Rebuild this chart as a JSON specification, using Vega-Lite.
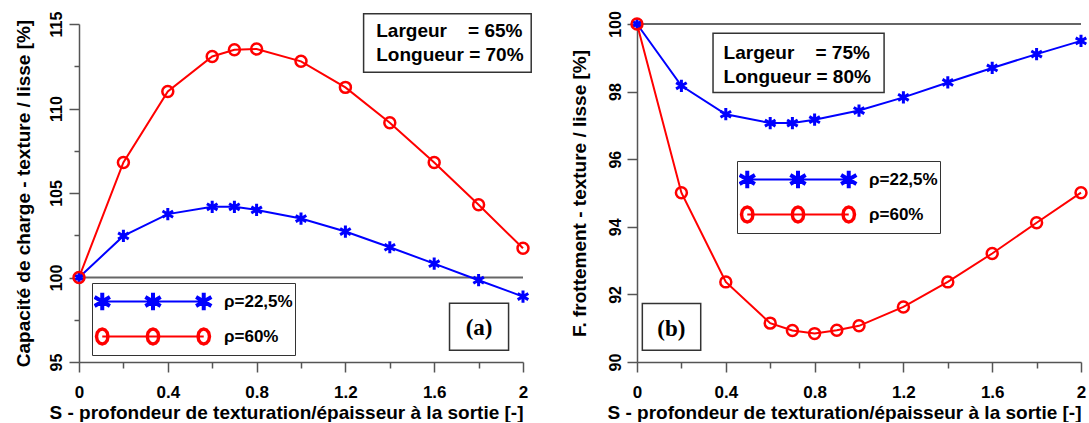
{
  "$schema": "https://vega.github.io/schema/vega-lite/v6.json",
  "padding": {"left": 14, "top": 10, "right": 0, "bottom": 0},
  "spacing": 35,
  "datasets": {
    "a": [
      {"serie": "ρ=22,5%", "S": 0, "val": 100},
      {"serie": "ρ=22,5%", "S": 0.2, "val": 102.46},
      {"serie": "ρ=22,5%", "S": 0.4, "val": 103.75},
      {"serie": "ρ=22,5%", "S": 0.6, "val": 104.18},
      {"serie": "ρ=22,5%", "S": 0.7, "val": 104.18},
      {"serie": "ρ=22,5%", "S": 0.8, "val": 104.0},
      {"serie": "ρ=22,5%", "S": 1.0, "val": 103.49},
      {"serie": "ρ=22,5%", "S": 1.2, "val": 102.72},
      {"serie": "ρ=22,5%", "S": 1.4, "val": 101.79},
      {"serie": "ρ=22,5%", "S": 1.6, "val": 100.82},
      {"serie": "ρ=22,5%", "S": 1.8, "val": 99.84},
      {"serie": "ρ=22,5%", "S": 2.0, "val": 98.87},
      {"serie": "ρ=60%", "S": 0, "val": 100},
      {"serie": "ρ=60%", "S": 0.2, "val": 106.81},
      {"serie": "ρ=60%", "S": 0.4, "val": 111.01},
      {"serie": "ρ=60%", "S": 0.6, "val": 113.08},
      {"serie": "ρ=60%", "S": 0.7, "val": 113.48},
      {"serie": "ρ=60%", "S": 0.8, "val": 113.52},
      {"serie": "ρ=60%", "S": 1.0, "val": 112.79},
      {"serie": "ρ=60%", "S": 1.2, "val": 111.25},
      {"serie": "ρ=60%", "S": 1.4, "val": 109.16},
      {"serie": "ρ=60%", "S": 1.6, "val": 106.81},
      {"serie": "ρ=60%", "S": 1.8, "val": 104.30},
      {"serie": "ρ=60%", "S": 2.0, "val": 101.73}
    ],
    "b": [
      {"serie": "ρ=22,5%", "S": 0, "val": 100},
      {"serie": "ρ=22,5%", "S": 0.2, "val": 98.17},
      {"serie": "ρ=22,5%", "S": 0.4, "val": 97.33},
      {"serie": "ρ=22,5%", "S": 0.6, "val": 97.07},
      {"serie": "ρ=22,5%", "S": 0.7, "val": 97.07},
      {"serie": "ρ=22,5%", "S": 0.8, "val": 97.17},
      {"serie": "ρ=22,5%", "S": 1.0, "val": 97.44},
      {"serie": "ρ=22,5%", "S": 1.2, "val": 97.83},
      {"serie": "ρ=22,5%", "S": 1.4, "val": 98.27},
      {"serie": "ρ=22,5%", "S": 1.6, "val": 98.70},
      {"serie": "ρ=22,5%", "S": 1.8, "val": 99.11},
      {"serie": "ρ=22,5%", "S": 2.0, "val": 99.50},
      {"serie": "ρ=60%", "S": 0, "val": 100},
      {"serie": "ρ=60%", "S": 0.2, "val": 95.01},
      {"serie": "ρ=60%", "S": 0.4, "val": 92.37},
      {"serie": "ρ=60%", "S": 0.6, "val": 91.15},
      {"serie": "ρ=60%", "S": 0.7, "val": 90.93},
      {"serie": "ρ=60%", "S": 0.8, "val": 90.84},
      {"serie": "ρ=60%", "S": 0.9, "val": 90.94},
      {"serie": "ρ=60%", "S": 1.0, "val": 91.07},
      {"serie": "ρ=60%", "S": 1.2, "val": 91.63},
      {"serie": "ρ=60%", "S": 1.4, "val": 92.37},
      {"serie": "ρ=60%", "S": 1.6, "val": 93.21},
      {"serie": "ρ=60%", "S": 1.8, "val": 94.12},
      {"serie": "ρ=60%", "S": 2.0, "val": 95.01}
    ]
  },
  "hconcat": [
    {
      "width": 444,
      "height": 338,
      "data": {"name": "a"},
      "layer": [
        {"data": {"values": [{}]}, "mark": {"type": "rule", "color": "#666666", "strokeWidth": 2}, "encoding": {"y": {"datum": 100, "scale": {"domain": [95, 115], "nice": false, "zero": false}}}},
        {
          "mark": {"type": "line", "strokeWidth": 2},
          "encoding": {
            "x": {"field": "S", "type": "quantitative", "scale": {"domain": [0, 2], "nice": false, "zero": false},
              "axis": {"title": "S - profondeur de texturation/épaisseur à la sortie [-]", "values": [0, 0.2, 0.4, 0.6, 0.8, 1, 1.2, 1.4, 1.6, 1.8, 2],
                "labelExpr": "round(datum.value*10) % 4 === 0 ? format(datum.value, '~g') : ''",
                "tickSize": {"condition": {"test": "round(datum.value*10) % 4 !== 0", "value": 6}, "value": 10},
                "labelFontSize": 17, "labelPadding": 12, "titleFontSize": 19, "titlePadding": 3, "titleAnchor": "end", "labelFlush": false, "labelOverlap": false, "labelAngle": 0}},
            "y": {"field": "val", "type": "quantitative", "scale": {"domain": [95, 115], "nice": false, "zero": false},
              "axis": {"title": "Capacité de charge - texture / lisse [%]", "values": [95, 97.5, 100, 102.5, 105, 107.5, 110, 112.5, 115],
                "labelExpr": "datum.value % 5 === 0 ? format(datum.value, 'd') : ''",
                "tickSize": {"condition": {"test": "datum.value % 5 !== 0", "value": 5}, "value": 10},
                "labelAngle": -90, "labelAlign": "center", "labelBaseline": "alphabetic", "labelPadding": 8, "labelFontSize": 16,
                "titleFontSize": 19, "titlePadding": 15, "labelFlush": false, "labelOverlap": false}},
            "color": {"field": "serie", "type": "nominal", "scale": {"domain": ["ρ=22,5%", "ρ=60%"], "range": ["#0000ff", "#ff0000"]},
              "legend": {"orient": "none", "legendX": 13, "legendY": 259, "title": null, "direction": "vertical",
                "symbolSize": 13924, "clipHeight": 33, "rowPadding": 2, "padding": 2, "labelOffset": 12,
                "labelFontSize": 17, "labelFont": "Liberation Sans", "labelFontWeight": "bold", "labelColor": "black",
                "strokeColor": "#333333", "fillColor": "white",
                "encode": {"symbols": {"update": {
                  "shape": {"signal": "datum.index === 0 ? 'M-0.86,-0.017L0.86,-0.017L0.86,0.017L-0.86,0.017Z M-0.826,-0.15L-0.826,0.15L-0.894,0.15L-0.894,-0.15Z M-0.9728,-0.1044L-0.7133,0.0456L-0.7472,0.1044L-1.0067,-0.0456Z M-0.7133,-0.0456L-0.9728,0.1044L-1.0067,0.0456L-0.7472,-0.1044Z M0.034,-0.15L0.034,0.15L-0.034,0.15L-0.034,-0.15Z M-0.1128,-0.1044L0.1467,0.0456L0.1128,0.1044L-0.1467,-0.0456Z M0.1467,-0.0456L-0.1128,0.1044L-0.1467,0.0456L0.1128,-0.1044Z M0.894,-0.15L0.894,0.15L0.826,0.15L0.826,-0.15Z M0.7472,-0.1044L1.0067,0.0456L0.9728,0.1044L0.7133,-0.0456Z M1.0067,-0.0456L0.7472,0.1044L0.7133,0.0456L0.9728,-0.1044Z' : 'M-0.86,-0.017L0.86,-0.017L0.86,0.017L-0.86,0.017Z M-0.733,0L-0.75,0.079L-0.7965,0.1368L-0.86,0.158L-0.9235,0.1368L-0.97,0.079L-0.987,0L-0.97,-0.079L-0.9235,-0.1368L-0.86,-0.158L-0.7965,-0.1368L-0.75,-0.079Z M-0.792,0L-0.8011,-0.049L-0.826,-0.0849L-0.86,-0.098L-0.894,-0.0849L-0.9189,-0.049L-0.928,0L-0.9189,0.049L-0.894,0.0849L-0.86,0.098L-0.826,0.0849L-0.8011,0.049Z M0.127,0L0.11,0.079L0.0635,0.1368L0,0.158L-0.0635,0.1368L-0.11,0.079L-0.127,0L-0.11,-0.079L-0.0635,-0.1368L0,-0.158L0.0635,-0.1368L0.11,-0.079Z M0.068,0L0.0589,-0.049L0.034,-0.0849L0,-0.098L-0.034,-0.0849L-0.0589,-0.049L-0.068,0L-0.0589,0.049L-0.034,0.0849L0,0.098L0.034,0.0849L0.0589,0.049Z M0.987,0L0.97,0.079L0.9235,0.1368L0.86,0.158L0.7965,0.1368L0.75,0.079L0.733,0L0.75,-0.079L0.7965,-0.1368L0.86,-0.158L0.9235,-0.1368L0.97,-0.079Z M0.928,0L0.9189,-0.049L0.894,-0.0849L0.86,-0.098L0.826,-0.0849L0.8011,-0.049L0.792,0L0.8011,0.049L0.826,0.0849L0.86,0.098L0.894,0.0849L0.9189,0.049Z'"},
                  "fill": {"signal": "datum.index === 0 ? '#0000ff' : '#ff0000'"},
                  "fillOpacity": {"value": 1},
                  "opacity": {"value": 1},
                  "stroke": {"value": "transparent"},
                  "strokeWidth": {"value": 0},
                  "size": {"value": 13924}
                }}}}}
          }
        },
        {
          "transform": [{"filter": "datum.serie === 'ρ=22,5%'"}],
          "mark": {"type": "point", "shape": "M0,-1L0,1M-0.866,-0.5L0.866,0.5M-0.866,0.5L0.866,-0.5", "color": "#0000ff", "filled": false, "strokeWidth": 3, "size": 150, "opacity": 1},
          "encoding": {"x": {"field": "S", "type": "quantitative"}, "y": {"field": "val", "type": "quantitative"}}
        },
        {
          "transform": [{"filter": "datum.serie === 'ρ=60%'"}],
          "mark": {"type": "point", "shape": "circle", "color": "#ff0000", "filled": false, "strokeWidth": 2.5, "size": 120, "opacity": 1},
          "encoding": {"x": {"field": "S", "type": "quantitative"}, "y": {"field": "val", "type": "quantitative"}}
        },
        {"data": {"values": [{}]}, "mark": {"type": "rect", "fill": "white", "stroke": "#333333", "strokeWidth": 1.5},
          "encoding": {"x": {"datum": 1.282}, "x2": {"datum": 2.037}, "y": {"datum": 115.6}, "y2": {"datum": 112.14}}},
        {"data": {"values": [{}]}, "mark": {"type": "text", "text": ["Largeur\u00a0\u00a0\u00a0\u00a0= 65%", "Longueur = 70%"], "align": "left", "baseline": "alphabetic", "fontSize": 19, "fontWeight": "bold", "font": "Liberation Sans", "lineHeight": 24, "color": "black"},
          "encoding": {"x": {"datum": 1.339}, "y": {"datum": 114.21}}},
        {"data": {"values": [{}]}, "mark": {"type": "rect", "fill": "white", "stroke": "#333333", "strokeWidth": 1.5},
          "encoding": {"x": {"datum": 1.669}, "x2": {"datum": 1.935}, "y": {"datum": 98.48}, "y2": {"datum": 95.69}}},
        {"data": {"values": [{}]}, "mark": {"type": "text", "text": "(a)", "align": "center", "baseline": "middle", "fontSize": 23, "fontWeight": "bold", "font": "Liberation Serif", "color": "black"},
          "encoding": {"x": {"datum": 1.802}, "y": {"datum": 97.01}}}
      ]
    },
    {
      "width": 444,
      "height": 338,
      "data": {"name": "b"},
      "layer": [
        {"data": {"values": [{}]}, "mark": {"type": "rule", "color": "#666666", "strokeWidth": 2}, "encoding": {"y": {"datum": 100, "scale": {"domain": [90, 100], "nice": false, "zero": false}}}},
        {
          "mark": {"type": "line", "strokeWidth": 2},
          "encoding": {
            "x": {"field": "S", "type": "quantitative", "scale": {"domain": [0, 2], "nice": false, "zero": false},
              "axis": {"title": "S - profondeur de texturation/épaisseur à la sortie [-]", "values": [0, 0.2, 0.4, 0.6, 0.8, 1, 1.2, 1.4, 1.6, 1.8, 2],
                "labelExpr": "round(datum.value*10) % 4 === 0 ? format(datum.value, '~g') : ''",
                "tickSize": {"condition": {"test": "round(datum.value*10) % 4 !== 0", "value": 6}, "value": 10},
                "labelFontSize": 17, "labelPadding": 12, "titleFontSize": 19, "titlePadding": 3, "titleAnchor": "end", "labelFlush": false, "labelOverlap": false, "labelAngle": 0}},
            "y": {"field": "val", "type": "quantitative", "scale": {"domain": [90, 100], "nice": false, "zero": false},
              "axis": {"title": "F. frottement - texture / lisse [%]", "values": [90, 91, 92, 93, 94, 95, 96, 97, 98, 99, 100],
                "labelExpr": "datum.value % 2 === 0 ? format(datum.value, 'd') : ''",
                "tickSize": {"condition": {"test": "datum.value % 2 !== 0", "value": 5}, "value": 10},
                "labelAngle": -90, "labelAlign": "center", "labelBaseline": "alphabetic", "labelPadding": 7, "labelFontSize": 16,
                "titleFontSize": 19, "titlePadding": 18, "labelFlush": false, "labelOverlap": false}},
            "color": {"field": "serie", "type": "nominal", "scale": {"domain": ["ρ=22,5%", "ρ=60%"], "range": ["#0000ff", "#ff0000"]},
              "legend": {"orient": "none", "legendX": 100, "legendY": 137, "title": null, "direction": "vertical",
                "symbolSize": 13924, "clipHeight": 33, "rowPadding": 2, "padding": 2, "labelOffset": 12,
                "labelFontSize": 17, "labelFont": "Liberation Sans", "labelFontWeight": "bold", "labelColor": "black",
                "strokeColor": "#333333", "fillColor": "white",
                "encode": {"symbols": {"update": {
                  "shape": {"signal": "datum.index === 0 ? 'M-0.86,-0.017L0.86,-0.017L0.86,0.017L-0.86,0.017Z M-0.826,-0.15L-0.826,0.15L-0.894,0.15L-0.894,-0.15Z M-0.9728,-0.1044L-0.7133,0.0456L-0.7472,0.1044L-1.0067,-0.0456Z M-0.7133,-0.0456L-0.9728,0.1044L-1.0067,0.0456L-0.7472,-0.1044Z M0.034,-0.15L0.034,0.15L-0.034,0.15L-0.034,-0.15Z M-0.1128,-0.1044L0.1467,0.0456L0.1128,0.1044L-0.1467,-0.0456Z M0.1467,-0.0456L-0.1128,0.1044L-0.1467,0.0456L0.1128,-0.1044Z M0.894,-0.15L0.894,0.15L0.826,0.15L0.826,-0.15Z M0.7472,-0.1044L1.0067,0.0456L0.9728,0.1044L0.7133,-0.0456Z M1.0067,-0.0456L0.7472,0.1044L0.7133,0.0456L0.9728,-0.1044Z' : 'M-0.86,-0.017L0.86,-0.017L0.86,0.017L-0.86,0.017Z M-0.733,0L-0.75,0.079L-0.7965,0.1368L-0.86,0.158L-0.9235,0.1368L-0.97,0.079L-0.987,0L-0.97,-0.079L-0.9235,-0.1368L-0.86,-0.158L-0.7965,-0.1368L-0.75,-0.079Z M-0.792,0L-0.8011,-0.049L-0.826,-0.0849L-0.86,-0.098L-0.894,-0.0849L-0.9189,-0.049L-0.928,0L-0.9189,0.049L-0.894,0.0849L-0.86,0.098L-0.826,0.0849L-0.8011,0.049Z M0.127,0L0.11,0.079L0.0635,0.1368L0,0.158L-0.0635,0.1368L-0.11,0.079L-0.127,0L-0.11,-0.079L-0.0635,-0.1368L0,-0.158L0.0635,-0.1368L0.11,-0.079Z M0.068,0L0.0589,-0.049L0.034,-0.0849L0,-0.098L-0.034,-0.0849L-0.0589,-0.049L-0.068,0L-0.0589,0.049L-0.034,0.0849L0,0.098L0.034,0.0849L0.0589,0.049Z M0.987,0L0.97,0.079L0.9235,0.1368L0.86,0.158L0.7965,0.1368L0.75,0.079L0.733,0L0.75,-0.079L0.7965,-0.1368L0.86,-0.158L0.9235,-0.1368L0.97,-0.079Z M0.928,0L0.9189,-0.049L0.894,-0.0849L0.86,-0.098L0.826,-0.0849L0.8011,-0.049L0.792,0L0.8011,0.049L0.826,0.0849L0.86,0.098L0.894,0.0849L0.9189,0.049Z'"},
                  "fill": {"signal": "datum.index === 0 ? '#0000ff' : '#ff0000'"},
                  "fillOpacity": {"value": 1},
                  "opacity": {"value": 1},
                  "stroke": {"value": "transparent"},
                  "strokeWidth": {"value": 0},
                  "size": {"value": 13924}
                }}}}}
          }
        },
        {
          "transform": [{"filter": "datum.serie === 'ρ=22,5%'"}],
          "mark": {"type": "point", "shape": "M0,-1L0,1M-0.866,-0.5L0.866,0.5M-0.866,0.5L0.866,-0.5", "color": "#0000ff", "filled": false, "strokeWidth": 3, "size": 150, "opacity": 1},
          "encoding": {"x": {"field": "S", "type": "quantitative"}, "y": {"field": "val", "type": "quantitative"}}
        },
        {
          "transform": [{"filter": "datum.serie === 'ρ=60%'"}],
          "mark": {"type": "point", "shape": "circle", "color": "#ff0000", "filled": false, "strokeWidth": 2.5, "size": 120, "opacity": 1},
          "encoding": {"x": {"field": "S", "type": "quantitative"}, "y": {"field": "val", "type": "quantitative"}}
        },
        {"data": {"values": [{}]}, "mark": {"type": "rect", "fill": "white", "stroke": "#333333", "strokeWidth": 1.5},
          "encoding": {"x": {"datum": 0.3425}, "x2": {"datum": 1.113}, "y": {"datum": 99.73}, "y2": {"datum": 97.97}}},
        {"data": {"values": [{}]}, "mark": {"type": "text", "text": ["Largeur\u00a0\u00a0\u00a0\u00a0= 75%", "Longueur = 80%"], "align": "left", "baseline": "alphabetic", "fontSize": 19, "fontWeight": "bold", "font": "Liberation Sans", "lineHeight": 23.5, "color": "black"},
          "encoding": {"x": {"datum": 0.39}, "y": {"datum": 98.96}}},
        {"data": {"values": [{}]}, "mark": {"type": "rect", "fill": "white", "stroke": "#333333", "strokeWidth": 1.5},
          "encoding": {"x": {"datum": 0.024}, "x2": {"datum": 0.287}, "y": {"datum": 91.73}, "y2": {"datum": 90.35}}},
        {"data": {"values": [{}]}, "mark": {"type": "text", "text": "(b)", "align": "center", "baseline": "middle", "fontSize": 23, "fontWeight": "bold", "font": "Liberation Serif", "color": "black"},
          "encoding": {"x": {"datum": 0.155}, "y": {"datum": 90.98}}}
      ]
    }
  ],
  "resolve": {"scale": {"y": "independent", "color": "independent"}, "legend": {"color": "independent"}},
  "config": {
    "view": {"stroke": null},
    "font": "Liberation Sans",
    "axis": {"labelFont": "Liberation Sans", "titleFont": "Liberation Sans", "labelFontWeight": "bold", "titleFontWeight": "bold",
      "labelColor": "black", "titleColor": "black", "domainColor": "#555555", "domainWidth": 1.5, "tickColor": "#555555", "tickWidth": 1.5, "grid": false}
  }
}
